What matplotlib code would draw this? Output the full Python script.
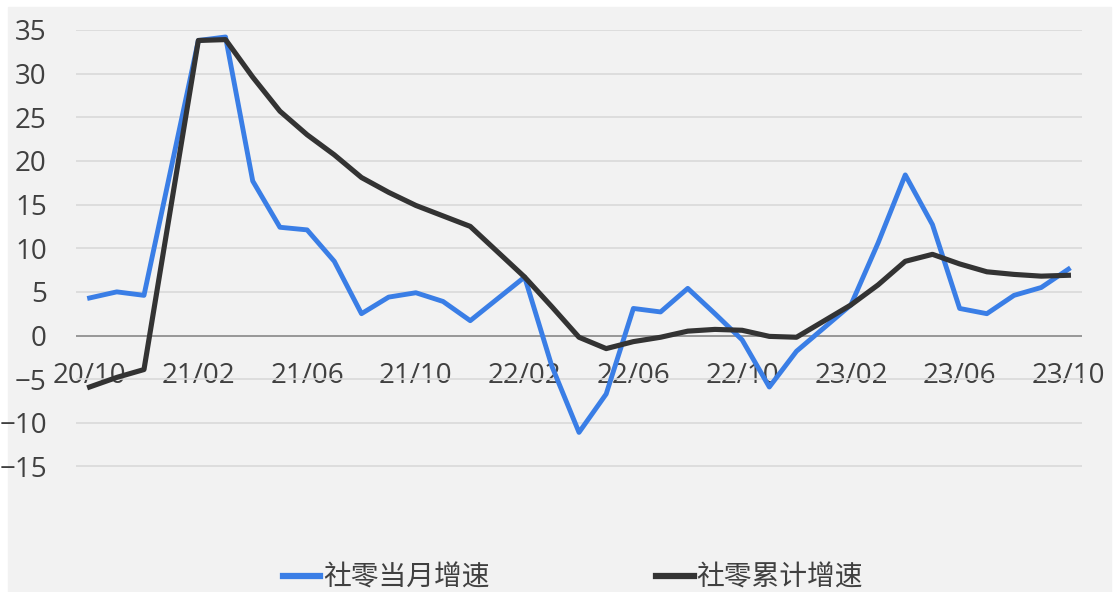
import numpy as np
import matplotlib.pyplot as plt
from matplotlib.patches import Rectangle

# 2020/10 - 2023/10, 每月; 1月无单独数据
months = ['20/10', '20/11', '20/12', '21/01', '21/02', '21/03', '21/04', '21/05', '21/06',
          '21/07', '21/08', '21/09', '21/10', '21/11', '21/12', '22/01', '22/02', '22/03',
          '22/04', '22/05', '22/06', '22/07', '22/08', '22/09', '22/10', '22/11', '22/12',
          '23/01', '23/02', '23/03', '23/04', '23/05', '23/06', '23/07', '23/08', '23/09', '23/10']
dangyue = [4.3, 5.0, 4.6, None, 33.8, 34.2, 17.7, 12.4, 12.1, 8.5, 2.5, 4.4, 4.9, 3.9, 1.7,
           None, 6.7, -3.5, -11.1, -6.7, 3.1, 2.7, 5.4, 2.5, -0.5, -5.9, -1.8,
           None, 3.5, 10.6, 18.4, 12.7, 3.1, 2.5, 4.6, 5.5, 7.6]
leiji = [-5.9, -4.8, -3.9, None, 33.8, 33.9, 29.6, 25.7, 23.0, 20.7, 18.1, 16.4, 14.9, 13.7, 12.5,
         None, 6.7, 3.3, -0.2, -1.5, -0.7, -0.2, 0.5, 0.7, 0.6, -0.1, -0.2,
         None, 3.5, 5.8, 8.5, 9.3, 8.2, 7.3, 7.0, 6.8, 6.9]
yticks = [-15, -10, -5, 0, 5, 10, 15, 20, 25, 30, 35]

W, H = 1113, 592
fig = plt.figure(figsize=(W / 100, H / 100), dpi=100)
fig.patch.set_facecolor('white')
# 灰色图表区
fig.patches.append(Rectangle((8 / W, 0), (1111 - 8) / W, (H - 7) / H,
                             transform=fig.transFigure, color='#f2f2f2', zorder=-10))

ax = fig.add_axes([76 / W, 1 - 545 / H, (1082 - 76) / W, (545 - 30) / H])
ax.set_facecolor('none')

x = np.arange(len(months))
d = np.array([np.nan if v is None else v for v in dangyue])
l = np.array([np.nan if v is None else v for v in leiji])
md = ~np.isnan(d)
ml = ~np.isnan(l)

ax.plot(x[md], d[md], color='#3a7ee6', lw=3.5, label='社零当月增速', zorder=3)
ax.plot(x[ml], l[ml], color='#333333', lw=3.7, label='社零累计增速', zorder=4)

ax.set_xlim(-0.5, len(months) - 0.5)
ax.set_ylim(-24, 35)
ax.set_yticks(yticks)
ax.yaxis.grid(True, color='#d9d9d9', lw=1.2)
ax.axhline(0, color='#8c8c8c', lw=1.2, zorder=1)
ax.set_axisbelow(True)
for s in ax.spines.values():
    s.set_visible(False)

ax.spines['bottom'].set_position(('data', 0))
ax.set_xticks(x[::4])
ax.set_xticklabels(months[::4])
ax.tick_params(axis='both', length=0, labelsize=20, labelcolor='#404040')
ax.tick_params(axis='y', pad=21)
ax.tick_params(axis='x', pad=19)
for t in ax.get_xticklabels() + ax.get_yticklabels():
    t.set_family(['Open Sans', 'DejaVu Sans'])

leg = fig.legend(loc='center', bbox_to_anchor=(573 / W, 1 - 578 / H), ncol=2, frameon=False,
                 prop={'family': ['Noto Sans CJK SC', 'DejaVu Sans'], 'size': 20},
                 labelcolor='#404040', handlelength=1.35, handletextpad=0.1, columnspacing=6.0,
                 borderaxespad=0, borderpad=0)
for h in leg.get_lines():
    h.set_linewidth(4.5)

fig.savefig('out.png', dpi=100)
